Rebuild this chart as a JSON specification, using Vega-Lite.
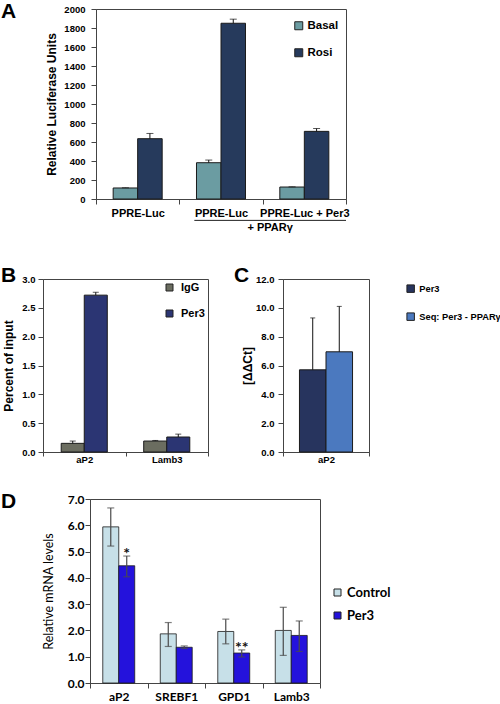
{
 "$schema": "https://vega.github.io/schema/vega-lite/v6.json",
 "background": "white",
 "padding": 0,
 "spacing": 26,
 "resolve": {"scale": {"color": "independent", "xOffset": "independent", "x": "independent", "y": "independent"}, "legend": {"color": "independent"}},
 "config": {
  "font": "Liberation Sans",
  "view": {"stroke": null},
  "axis": {"labelFont": "Liberation Sans", "titleFont": "Liberation Sans", "labelFontWeight": "bold", "titleFontWeight": "bold", "labelColor": "#000", "titleColor": "#000", "domainColor": "#444", "tickColor": "#444", "grid": false, "labelFontSize": 9.5, "titleFontSize": 12, "labelOverlap": false},
  "legend": {"labelFont": "Liberation Sans", "labelFontWeight": "bold", "labelColor": "#000", "symbolType": "square", "symbolStrokeColor": "#222", "symbolStrokeWidth": 1, "padding": 0, "orient": "none"},
  "title": {"font": "Liberation Sans", "fontSize": 21, "fontWeight": "bold", "anchor": "start", "frame": "group", "offset": 0, "baseline": "alphabetic", "color": "#000"}
 },
 "vconcat": [
  {
   "hconcat": [
    {"width": 53, "height": 229, "data": {"values": []}, "mark": "point", "encoding": {}},
    {
     "width": 250, "height": 190,
     "view": {"stroke": "#444"},
     "title": {"text": "A", "dx": -95, "dy": 22},
     "data": {"values": [
      {"construct": "g1", "treatment": "Basal", "luc": 116, "lucHi": 118},
      {"construct": "g1", "treatment": "Rosi", "luc": 635, "lucHi": 690},
      {"construct": "g2", "treatment": "Basal", "luc": 382, "lucHi": 410},
      {"construct": "g2", "treatment": "Rosi", "luc": 1850, "lucHi": 1893},
      {"construct": "g3", "treatment": "Basal", "luc": 126, "lucHi": 128},
      {"construct": "g3", "treatment": "Rosi", "luc": 712, "lucHi": 742}
     ]},
     "layer": [
      {"mark": {"type": "bar", "stroke": "#1b1b1b", "strokeWidth": 1},
       "encoding": {
        "x": {"field": "construct", "type": "nominal", "scale": {"domain": ["g1", "g2", "g3"], "paddingInner": 0, "paddingOuter": 0},
         "axis": {"title": null, "labelExpr": "datum.extra ? '' : (datum.value == 'g3' ? 'PPRE-Luc + Per3' : 'PPRE-Luc')", "labelAngle": 0, "labelFontSize": 11, "labelPadding": 3, "tickSize": 5, "tickBand": "extent", "labelOverlap": false}},
        "xOffset": {"field": "treatment", "type": "nominal", "scale": {"domain": ["Basal", "Rosi"], "paddingInner": 0, "paddingOuter": 0.7}},
        "y": {"field": "luc", "type": "quantitative", "scale": {"domain": [0, 2000], "nice": false},
         "axis": {"title": "Relative Luciferase Units", "values": [0, 200, 400, 600, 800, 1000, 1200, 1400, 1600, 1800, 2000], "tickCount": 30, "format": "d", "tickSize": 5, "labelPadding": 6, "titlePadding": 5, "labelOverlap": false}},
        "color": {"field": "treatment", "type": "nominal", "scale": {"domain": ["Basal", "Rosi"], "range": ["#6b9ca2", "#263a5c"]},
         "legend": {"title": null, "legendX": 197, "legendY": 11, "symbolSize": 64, "labelFontSize": 11.5, "labelOffset": 3, "rowPadding": 14}}
       }},
      {"mark": {"type": "rule", "color": "#111", "strokeWidth": 1},
       "encoding": {"x": {"field": "construct", "type": "nominal"}, "xOffset": {"field": "treatment", "type": "nominal"}, "y": {"field": "lucHi", "type": "quantitative"}, "y2": {"field": "luc"}}},
      {"mark": {"type": "tick", "color": "#111", "size": 7, "thickness": 1},
       "encoding": {"x": {"field": "construct", "type": "nominal"}, "xOffset": {"field": "treatment", "type": "nominal"}, "y": {"field": "lucHi", "type": "quantitative"}}},
      {"data": {"values": [{"from": "g2", "to": "g3"}]},
       "mark": {"type": "rule", "color": "#222", "strokeWidth": 1},
       "encoding": {"x": {"field": "from", "type": "nominal", "bandPosition": 0.18}, "x2": {"field": "to", "bandPosition": 1}, "y": {"datum": -225}}},
      {"data": {"values": [{"note": "+ PPARγ", "at": "g3"}]},
       "mark": {"type": "text", "fontSize": 11, "fontWeight": "bold", "baseline": "alphabetic", "font": "Liberation Sans", "color": "#000"},
       "encoding": {"x": {"field": "at", "type": "nominal", "bandPosition": 0.09}, "y": {"datum": -340}, "text": {"field": "note"}}}
     ]
    }
   ],
   "spacing": 0, "bounds": "flush",
   "resolve": {"scale": {"color": "independent", "xOffset": "independent", "x": "independent", "y": "independent"}, "legend": {"color": "independent"}}
  },
  {
   "hconcat": [
    {
     "width": 165, "height": 173,
     "view": {"stroke": "#444"},
     "title": {"text": "B", "dx": -42, "dy": 16},
     "data": {"values": [
      {"locus": "aP2", "ab": "IgG", "pct": 0.15, "pctHi": 0.19},
      {"locus": "aP2", "ab": "Per3", "pct": 2.72, "pctHi": 2.77},
      {"locus": "Lamb3", "ab": "IgG", "pct": 0.19, "pctHi": 0.2},
      {"locus": "Lamb3", "ab": "Per3", "pct": 0.26, "pctHi": 0.31}
     ]},
     "layer": [
      {"mark": {"type": "bar", "stroke": "#1b1b1b", "strokeWidth": 1},
       "encoding": {
        "x": {"field": "locus", "type": "nominal", "scale": {"domain": ["aP2", "Lamb3"], "paddingInner": 0, "paddingOuter": 0},
         "axis": {"title": null, "labelAngle": 0, "labelFontSize": 9.5, "labelPadding": -2, "tickSize": 4, "tickBand": "extent", "labelOverlap": false}},
        "xOffset": {"field": "ab", "type": "nominal", "scale": {"domain": ["IgG", "Per3"], "paddingInner": 0, "paddingOuter": 0.79}},
        "y": {"field": "pct", "type": "quantitative", "scale": {"domain": [0, 3], "nice": false},
         "axis": {"title": "Percent of input", "values": [0, 0.5, 1, 1.5, 2, 2.5, 3], "tickCount": 30, "format": ".1f", "tickSize": 5, "labelPadding": 3, "titlePadding": 6, "labelOverlap": false}},
        "color": {"field": "ab", "type": "nominal", "scale": {"domain": ["IgG", "Per3"], "range": ["#6b6d60", "#2b3573"]},
         "legend": {"title": null, "legendX": 121, "legendY": 3, "symbolSize": 49, "labelFontSize": 11, "labelOffset": 6, "rowPadding": 14}}
       }},
      {"mark": {"type": "rule", "color": "#111", "strokeWidth": 1},
       "encoding": {"x": {"field": "locus", "type": "nominal"}, "xOffset": {"field": "ab", "type": "nominal"}, "y": {"field": "pctHi", "type": "quantitative"}, "y2": {"field": "pct"}}},
      {"mark": {"type": "tick", "color": "#111", "size": 6, "thickness": 1},
       "encoding": {"x": {"field": "locus", "type": "nominal"}, "xOffset": {"field": "ab", "type": "nominal"}, "y": {"field": "pctHi", "type": "quantitative"}}}
     ]
    },
    {
     "width": 86, "height": 173,
     "view": {"stroke": "#444"},
     "title": {"text": "C", "dx": -49, "dy": 16},
     "data": {"values": [
      {"locus": "aP2", "chip": "Per3", "ddct": 5.7, "ddctHi": 9.3},
      {"locus": "aP2", "chip": "Seq: Per3 - PPARγ", "ddct": 6.95, "ddctHi": 10.1}
     ]},
     "layer": [
      {"mark": {"type": "bar", "stroke": "#1b1b1b", "strokeWidth": 1},
       "encoding": {
        "x": {"field": "locus", "type": "nominal", "scale": {"domain": ["aP2"], "paddingInner": 0, "paddingOuter": 0},
         "axis": {"title": null, "labelAngle": 0, "labelFontSize": 9.5, "labelPadding": -2, "tickSize": 4, "tickBand": "extent", "labelOverlap": false}},
        "xOffset": {"field": "chip", "type": "nominal", "scale": {"domain": ["Per3", "Seq: Per3 - PPARγ"], "paddingInner": 0, "paddingOuter": 0.62}},
        "y": {"field": "ddct", "type": "quantitative", "scale": {"domain": [0, 12], "nice": false},
         "axis": {"title": "[ΔΔCt]", "values": [0, 2, 4, 6, 8, 10, 12], "tickCount": 30, "format": ".1f", "tickSize": 5, "labelPadding": 4, "titlePadding": 1, "labelOverlap": false}},
        "color": {"field": "chip", "type": "nominal", "scale": {"domain": ["Per3", "Seq: Per3 - PPARγ"], "range": ["#27345e", "#4b79bf"]},
         "legend": {"title": null, "legendX": 123, "legendY": 5, "symbolSize": 56, "labelFontSize": 9.3, "labelOffset": 4, "rowPadding": 15, "labelLimit": 200}}
       }},
      {"mark": {"type": "rule", "color": "#111", "strokeWidth": 1},
       "encoding": {"x": {"field": "locus", "type": "nominal"}, "xOffset": {"field": "chip", "type": "nominal"}, "y": {"field": "ddctHi", "type": "quantitative"}, "y2": {"field": "ddct"}}},
      {"mark": {"type": "tick", "color": "#111", "size": 5, "thickness": 1},
       "encoding": {"x": {"field": "locus", "type": "nominal"}, "xOffset": {"field": "chip", "type": "nominal"}, "y": {"field": "ddctHi", "type": "quantitative"}}}
     ]
    }
   ],
   "spacing": 75, "bounds": "flush",
   "resolve": {"scale": {"color": "independent", "xOffset": "independent", "x": "independent", "y": "independent"}, "legend": {"color": "independent"}}
  },
  {
   "hconcat": [
    {"width": 47, "height": 1, "data": {"values": []}, "mark": "point", "encoding": {}},
    {
     "width": 230, "height": 184,
     "view": {"stroke": "#444"},
     "title": {"text": "D", "dx": -89, "dy": 23},
     "data": {"values": [
      {"gene": "aP2", "grp": "Control", "rel": 5.94, "lo": 5.21, "hi": 6.66},
      {"gene": "aP2", "grp": "Per3", "rel": 4.46, "lo": 4.04, "hi": 4.83, "sig": "*"},
      {"gene": "SREBF1", "grp": "Control", "rel": 1.87, "lo": 1.39, "hi": 2.3},
      {"gene": "SREBF1", "grp": "Per3", "rel": 1.36, "lo": 1.31, "hi": 1.41},
      {"gene": "GPD1", "grp": "Control", "rel": 1.96, "lo": 1.49, "hi": 2.43},
      {"gene": "GPD1", "grp": "Per3", "rel": 1.14, "lo": 0.99, "hi": 1.26, "sig": "**"},
      {"gene": "Lamb3", "grp": "Control", "rel": 2.0, "lo": 1.05, "hi": 2.88},
      {"gene": "Lamb3", "grp": "Per3", "rel": 1.81, "lo": 1.2, "hi": 2.36}
     ]},
     "layer": [
      {"mark": {"type": "bar", "stroke": "#1b1b1b", "strokeWidth": 0.8},
       "encoding": {
        "x": {"field": "gene", "type": "nominal", "scale": {"domain": ["aP2", "SREBF1", "GPD1", "Lamb3"], "paddingInner": 0, "paddingOuter": 0},
         "axis": {"title": null, "labelAngle": 0, "labelFont": "Lato", "labelFontSize": 12, "labelPadding": 3, "tickSize": 5, "tickBand": "extent", "labelOverlap": false}},
        "xOffset": {"field": "grp", "type": "nominal", "scale": {"domain": ["Control", "Per3"], "paddingInner": 0, "paddingOuter": 0.8}},
        "y": {"field": "rel", "type": "quantitative", "scale": {"domain": [0, 7], "nice": false},
         "axis": {"title": "Relative mRNA levels", "values": [0, 1, 2, 3, 4, 5, 6, 7], "tickCount": 30, "format": ".1f", "labelFont": "Lato", "labelFontSize": 12, "tickSize": 5, "labelPadding": 1, "titleFont": "Lato", "titleFontWeight": "normal", "titleFontSize": 12.5, "titlePadding": 12, "labelOverlap": false}},
        "color": {"field": "grp", "type": "nominal", "scale": {"domain": ["Control", "Per3"], "range": ["#c7e0e8", "#2412dc"]},
         "legend": {"title": null, "legendX": 241, "legendY": 87, "symbolSize": 49, "labelFont": "Lato", "labelFontSize": 13, "labelOffset": 3, "rowPadding": 9}}
       }},
      {"mark": {"type": "rule", "color": "#4a4a4a", "strokeWidth": 1.2},
       "encoding": {"x": {"field": "gene", "type": "nominal"}, "xOffset": {"field": "grp", "type": "nominal"}, "y": {"field": "lo", "type": "quantitative"}, "y2": {"field": "hi"}}},
      {"mark": {"type": "tick", "color": "#4a4a4a", "size": 7, "thickness": 1.2},
       "encoding": {"x": {"field": "gene", "type": "nominal"}, "xOffset": {"field": "grp", "type": "nominal"}, "y": {"field": "lo", "type": "quantitative"}}},
      {"mark": {"type": "tick", "color": "#4a4a4a", "size": 7, "thickness": 1.2},
       "encoding": {"x": {"field": "gene", "type": "nominal"}, "xOffset": {"field": "grp", "type": "nominal"}, "y": {"field": "hi", "type": "quantitative"}}},
      {"transform": [{"filter": "datum.sig != null"}],
       "mark": {"type": "text", "font": "Lato", "fontWeight": "bold", "fontSize": 16, "baseline": "middle", "dy": -2, "color": "#111"},
       "encoding": {"x": {"field": "gene", "type": "nominal"}, "xOffset": {"field": "grp", "type": "nominal"}, "y": {"field": "hi", "type": "quantitative"}, "text": {"field": "sig"}}}
     ]
    }
   ],
   "spacing": 0, "bounds": "flush",
   "resolve": {"scale": {"color": "independent", "xOffset": "independent", "x": "independent", "y": "independent"}, "legend": {"color": "independent"}}
  }
 ]
}
